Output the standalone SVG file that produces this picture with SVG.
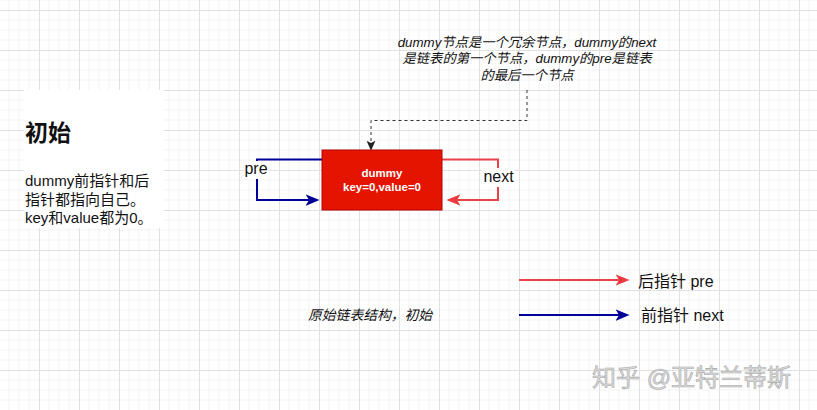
<svg xmlns="http://www.w3.org/2000/svg" width="817" height="410" viewBox="0 0 817 410">
<style>
text{font-family:"Liberation Sans","Noto Sans CJK SC",sans-serif;fill:#111}
.lbl{font-size:16px}
.body{font-size:15px}
.note{font-size:13.3px;font-style:italic;text-anchor:middle}
.blue{fill:none;stroke:#000099;stroke-width:2}
.red{fill:none;stroke:#e8414a;stroke-width:2}
.dash{fill:none;stroke:#333;stroke-width:1;stroke-dasharray:3 3}
</style>
<defs>
<pattern id="grid" x="-1" y="10" width="40" height="40" patternUnits="userSpaceOnUse">
<path d="M10,0V40M20,0V40M30,0V40M0,10H40M0,20H40M0,30H40" fill="none" stroke="#f3f3f3" stroke-width="1"/>
<path d="M0.5,0V40M0,0.5H40" fill="none" stroke="#e0e0e0" stroke-width="1"/>
</pattern>
<marker id="ab" markerUnits="userSpaceOnUse" markerWidth="14" markerHeight="12" refX="3" refY="5" orient="auto" viewBox="0 0 12 10">
<path d="M0,0L12,5L0,10L3,5Z" fill="#000099"/>
</marker>
<marker id="ar" markerUnits="userSpaceOnUse" markerWidth="14" markerHeight="12" refX="3" refY="5" orient="auto" viewBox="0 0 12 10">
<path d="M0,0L12,5L0,10L3,5Z" fill="#f03a42"/>
</marker>
<marker id="ak" markerUnits="userSpaceOnUse" markerWidth="10" markerHeight="9" refX="2" refY="4" orient="auto" viewBox="0 0 9 8">
<path d="M0,0L9,4L0,8L2,4Z" fill="#222"/>
</marker>
</defs>
<rect width="817" height="410" fill="#fff"/>
<rect width="817" height="410" fill="url(#grid)"/>

<g id="connectors">
<path class="blue" d="M322,159.5H257V200H309" marker-end="url(#ab)"/>
<path class="red" d="M442,159.5H498V200H457" marker-end="url(#ar)"/>
<path class="dash" d="M527,90V120.5H371V143" marker-end="url(#ak)"/>
<path class="red" d="M519,280H619" marker-end="url(#ar)"/>
<path class="blue" d="M519,315H619" marker-end="url(#ab)"/>
<rect x="244" y="161" width="25" height="18" fill="#fff"/>
<text class="lbl" x="256" y="173.5" text-anchor="middle">pre</text>
<rect x="482" y="168" width="33" height="19" fill="#fff"/>
<text class="lbl" x="498.5" y="182.3" text-anchor="middle">next</text>
</g>

<g id="intro">
<rect x="24" y="90" width="140" height="138" fill="#fff"/>
<text x="25" y="141" style="font-size:23px;font-weight:bold">初始</text>
<text class="body" x="25" y="186">dummy前指针和后</text>
<text class="body" x="25" y="204.5">指针都指向自己。</text>
<text class="body" x="25" y="223">key和value都为0。</text>
</g>

<g id="dummy">
<rect x="322" y="150" width="120" height="60" fill="#e51400" stroke="#b20000" stroke-width="1"/>
<text x="382" y="176.5" text-anchor="middle" style="font-size:11.5px;font-weight:bold;fill:#fff">dummy</text>
<text x="382" y="191" text-anchor="middle" style="font-size:11.5px;font-weight:bold;fill:#fff">key=0,value=0</text>
</g>

<g id="note">
<text class="note" x="527" y="46.5">dummy节点是一个冗余节点，dummy的next</text>
<text class="note" x="527" y="63">是链表的第一个节点，dummy的pre是链表</text>
<text class="note" x="527" y="79.5">的最后一个节点</text>
</g>

<g id="caption">
<text x="308" y="320" style="font-size:13.8px;font-style:italic">原始链表结构，初始</text>
</g>

<g id="legend">
<text class="lbl" x="638" y="287">后指针 pre</text>
<text class="lbl" x="641" y="321">前指针 next</text>
</g>

<g id="watermark">
<text x="592" y="386" style="font-size:24px;fill:#dcdcdc;stroke:#a9a9a9;stroke-width:0.6">知乎 @亚特兰蒂斯</text>
</g>
</svg>
